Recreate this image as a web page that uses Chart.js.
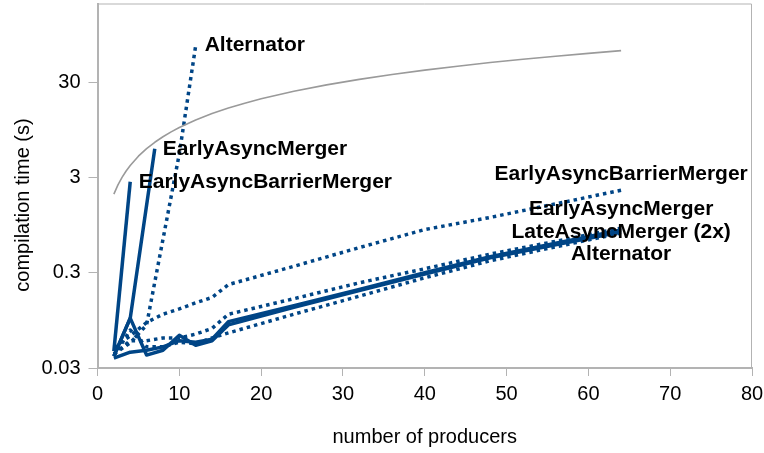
<!DOCTYPE html>
<html><head><meta charset="utf-8">
<script src="https://cdn.jsdelivr.net/npm/chart.js@4/dist/chart.umd.min.js"></script>
<style>html,body{margin:0;padding:0;background:#fff}</style>
</head><body>
<canvas id="c" width="764" height="453"></canvas>
<script>
// ---- data ----
const xTicks = [0,10,20,30,40,50,60,70,80];
const yTicks = [0.03,0.3,3,30];
const yTickLabels = ['0.03','0.3','3','30'];

const refX = [2,2.5,3,3.5,4,5,6,7,8,9,10,12,14,16,18,20,24,28,32,36,40,44,48,52,56,60,64];
const refY = [2,2.5,3,3.5,4,5,6,7,8,9,10,12,14,16,18,20,24,28,32,36,40,44,48,52,56,60,64];

const eabmSolidX = [2,4];
const eabmSolidY = [0.045,2.7];

const eamSolidX = [2,4,7];
const eamSolidY = [0.040,0.100,6.0];

const altDotX = [2,4,6,8,10,12];
const altDotY = [0.042,0.055,0.085,0.67,5.3,72];

const bundleX = [2,4,6,8,10,12,14,16,24,32,40,48,56,64];
const eabmDotY = [0.050,0.065,0.090,0.110,0.125,0.145,0.165,0.225,0.35,0.55,0.85,1.14,1.58,2.2];
const eamDotY  = [0.042,0.058,0.058,0.062,0.062,0.068,0.078,0.110,0.16,0.235,0.33,0.47,0.64,0.88];
const lateSolidY = [0.038,0.044,0.046,0.050,0.058,0.056,0.060,0.092,0.135,0.20,0.30,0.44,0.61,0.84];
const lateDotY = [0.040,0.075,0.050,0.050,0.056,0.054,0.062,0.070,0.11,0.17,0.265,0.40,0.56,0.78];
const altSolidY = [0.040,0.100,0.041,0.046,0.066,0.052,0.058,0.085,0.13,0.195,0.29,0.43,0.59,0.80];

// ---- styles ----
const BLUE = '#004586';
const GRAY = '#9a9a9a';
const FRAME = '#b3b3b3';
const DOT = [3.5,4];

function pts(xs, ys){ return xs.map((x,i)=>({x:x, y:ys[i]})); }
function line(id, xs, ys, color, width, dash){
  return {id:id, data:pts(xs,ys), borderColor:color, borderWidth:width, borderDash:dash||[],
    pointRadius:0, fill:false, tension:0, borderCapStyle:'butt', borderJoinStyle:'round'};
}

const datasets = [
  line('ref', refX, refY, GRAY, 1.6),
  line('eabmSolid', eabmSolidX, eabmSolidY, BLUE, 3.5),
  line('eamSolid', eamSolidX, eamSolidY, BLUE, 3.5),
  line('altDot', altDotX, altDotY, BLUE, 3.5, DOT),
  line('eabmDot', bundleX, eabmDotY, BLUE, 3.5, DOT),
  line('eamDot', bundleX, eamDotY, BLUE, 3.5, DOT),
  line('lateDot', bundleX, lateDotY, BLUE, 3.5, DOT),
  line('lateSolid', bundleX, lateSolidY, BLUE, 3.5),
  line('altSolid', bundleX, altSolidY, BLUE, 3.5),
];

const seriesLabels = [
  {id:'altDot', text:'Alternator', align:'left', dx:9, dy:5},
  {id:'eamSolid', text:'EarlyAsyncMerger', align:'left', dx:8, dy:6},
  {id:'eabmSolid', text:'EarlyAsyncBarrierMerger', align:'left', dx:8.5, dy:6},
  {id:'eabmDot', text:'EarlyAsyncBarrierMerger', align:'center', dx:0, dy:-10},
  {id:'eamDot', text:'EarlyAsyncMerger', align:'center', dx:0, dy:-13.5},
  {id:'lateSolid', text:'LateAsyncMerger (2x)', align:'center', dx:0, dy:8},
  {id:'altSolid', text:'Alternator', align:'center', dx:0, dy:27.5},
];

const labelPlugin = {
  id:'labels',
  beforeDatasetsDraw(chart){
    const {ctx, chartArea:a} = chart;
    ctx.save();
    ctx.strokeStyle = FRAME; ctx.lineWidth = 1;
    ctx.beginPath();
    ctx.moveTo(a.left, a.top+0.5); ctx.lineTo(a.right-0.5, a.top+0.5); ctx.lineTo(a.right-0.5, a.bottom);
    ctx.stroke();
    ctx.restore();
  },
  afterDraw(chart){
    const {ctx, scales:{x:xs, y:ys}, chartArea:a} = chart;
    ctx.save();
    ctx.fillStyle = '#000';
    ctx.font = 'bold 21px "Liberation Sans", Arial, sans-serif';
    ctx.textBaseline = 'alphabetic';
    seriesLabels.forEach(l=>{
      const ds = chart.data.datasets.find(d=>d.id===l.id);
      const p = ds.data[ds.data.length-1];
      ctx.textAlign = l.align;
      ctx.fillText(l.text, xs.getPixelForValue(p.x)+l.dx, ys.getPixelForValue(p.y)+l.dy);
    });
    ctx.font = '20px "Liberation Sans", Arial, sans-serif';
    ctx.textAlign = 'center'; ctx.textBaseline = 'middle';
    ctx.fillText('number of producers', (a.left+a.right)/2, 437);
    ctx.translate(23, 205); ctx.rotate(-Math.PI/2);
    ctx.fillText('compilation time (s)', 0, 0);
    ctx.restore();
  }
};

new Chart(document.getElementById('c'), {
  type:'line',
  data:{datasets:datasets},
  plugins:[labelPlugin],
  options:{
    responsive:false, animation:false, devicePixelRatio:1,
    layout:{padding:{left:0, right:12, top:3.5, bottom:0}},
    plugins:{legend:{display:false}, tooltip:{enabled:false}},
    scales:{
      x:{type:'linear', min:0, max:80,
        afterBuildTicks(s){ s.ticks = xTicks.map(v=>({value:v})); },
        afterFit(s){ s.height = 85; s.paddingLeft = 0; s.paddingRight = 0; },
        grid:{drawOnChartArea:false, drawTicks:true, tickLength:8, color:FRAME},
        border:{color:FRAME, width:2},
        ticks:{color:'#000', padding:6, font:{family:'"Liberation Sans", Arial', size:20}, maxRotation:0,
          callback:(v)=>String(v)}
      },
      y:{type:'logarithmic', min:0.03, max:200,
        afterBuildTicks(s){ s.ticks = yTicks.map(v=>({value:v})); },
        afterFit(s){ s.width = 97.5; s.paddingTop = 0; s.paddingBottom = 0; },
        grid:{drawOnChartArea:false, drawTicks:true, tickLength:9, color:FRAME},
        border:{color:FRAME, width:2},
        ticks:{color:'#000', padding:8, font:{family:'"Liberation Sans", Arial', size:20},
          callback:(v)=>{ const i = yTicks.indexOf(v); return i>=0 ? yTickLabels[i] : ''; }}
      }
    }
  }
});
</script>
</body></html>
